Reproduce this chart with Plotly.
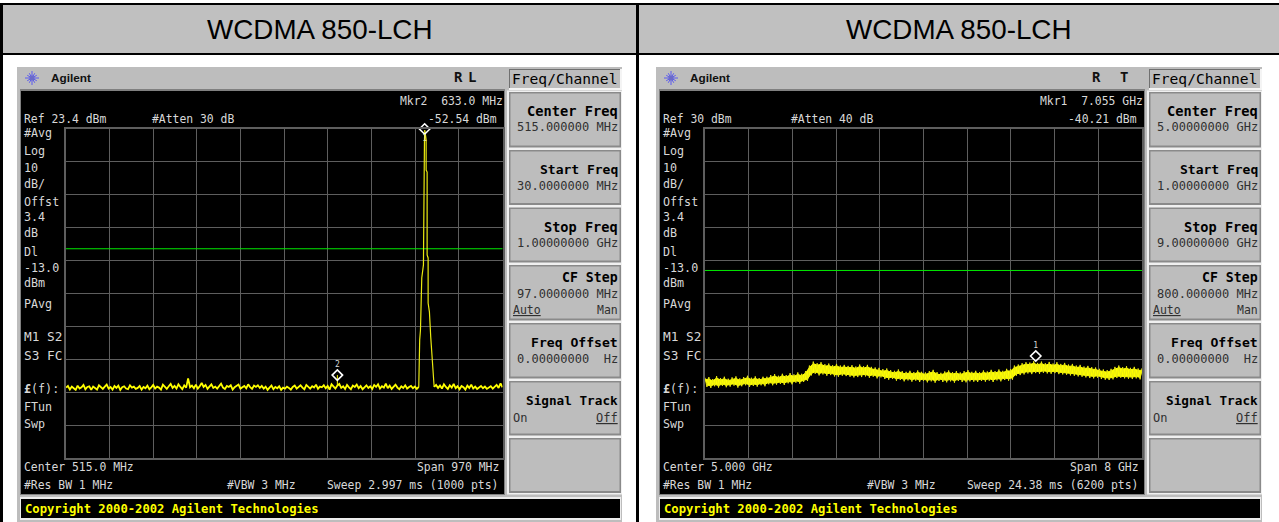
import math
import numpy as np
import plotly.graph_objects as go

W, H = 1279, 522
TITLE = "WCDMA 850-LCH"

# ---------- panel 1 data (MHz, dBm) ----------
P1_START, P1_STOP = 30.0, 1000.0
P1_REF = 23.4
P1_LIMIT = -13.0
p1_noise_left = [
-55.2,-54.7,-55.8,-54.9,-55.4,-55.9,-54.6,-55.5,-55.1,-54.4,-55.7,-55.0,-54.8,-55.9,-54.9,-55.3,-55.8,-54.5,-55.2,-55.6,
-54.9,-54.3,-55.5,-55.0,-55.8,-54.7,-55.3,-54.6,-55.9,-55.1,-54.8,-55.5,-55.7,-54.5,-55.2,-54.9,-55.6,-55.3,-54.7,-55.8,
-55.0,-55.4,-54.6,-55.7,-55.1,-54.4,-55.5,-54.9,-55.2,-55.8,-54.3,-55.0,-55.6,-54.8,-54.1,-55.3,-54.7,-55.5,-54.2,-55.0,
-55.7,-54.5,-55.2,-52.4,-55.1,-54.6,-55.4,-54.3,-55.5,-54.8,-53.8,-55.0,-54.4,-55.6,-54.7,-54.2,-55.3,-54.9,-55.5,-54.6,
-54.0,-55.2,-55.6,-54.7,-55.0,-54.5,-55.8,-55.1,-54.8,-54.3,-55.5,-55.0,-54.7,-55.4,-54.2,-55.1,-55.6,-54.6,-55.0,-54.5,
-55.3,-54.7,-55.5,-54.9,-55.9,-55.2,-54.6,-55.7,-55.0,-55.4,-54.8,-55.9,-55.2,-55.5,-54.9,-55.3,-55.8,-55.0,-54.6,-55.5,
-55.1,-54.5,-55.2,-55.7,-54.4,-55.0,-55.5,-54.8,-55.2,-54.3,-55.6,-54.9,-55.1,-54.5,-55.4,-54.7,-55.8,-54.2,-55.0,-55.5,
-54.6,-54.1,-55.3,-54.8,-55.6,-54.4,-55.1,-55.7,-54.6,-55.0,-54.3,-55.4,-54.7,-55.7,-55.1,-54.5,-55.3,-54.8,-55.6,-54.4,
-55.0,-54.2,-55.5,-54.8,-55.2,-54.0,-55.4,-54.6,-55.6,-54.9,-54.3,-55.2,-55.7,-54.8,-55.3,-54.5,-55.5,-55.0,-54.7,-55.4,
-54.9,-55.6
]
p1_peak_x = [813.9,814.7,816.0,817.7,818.3,820.6,824.3,824.7,826.6,827.3,830.3,830.3,832.5,832.5,834.7,834.7,837.6,840.5,843.7,845.9,848.1]
p1_peak_y = [-55.0,-46.8,-40.7,-37.7,-31.6,-21.9,-17.9,-2.7,20.1,23.1,20.1,10.9,10.3,-14.9,-15.8,-29.5,-32.2,-39.8,-47.7,-52.0,-55.0]
p1_noise_right = [
-54.4,-55.3,-54.6,-55.5,-54.2,-55.0,-55.6,-54.5,-55.2,-54.1,-55.4,-54.8,-55.7,-54.7,-55.1,-55.8,-54.6,-55.3,-54.3,-55.5,
-54.9,-55.6,-55.0,-54.7,-55.4,-54.9,-55.6,-55.1,-54.8,-55.5,-55.0,-54.4,-55.3,-53.9,-55.1
]
p1_marker_x = [633.0]
p1_marker_y = [-51.4]
p1_peak_marker_x = [827.0]
p1_peak_marker_y = [23.4]

# ---------- panel 2 data (GHz, dBm): alternating upper / lower edge of the trace ----------
P2_START, P2_STOP = 1.0, 9.0
P2_REF = 30.0
P2_LIMIT = -13.0
p2_trace = [
-45.6,-48.4,-45.4,-48.7,-46.0,-48.2,-45.1,-48.6,-45.7,-48.1,-45.3,-48.5,-45.9,-48.3,-45.5,-48.0,-45.2,-48.6,-45.8,-48.2,
-45.4,-47.9,-45.0,-48.4,-45.6,-48.1,-45.2,-48.3,-45.7,-47.9,-45.3,-48.2,
-45.3,-47.6,-44.8,-47.9,-44.5,-47.7,-45.0,-47.5,-44.4,-47.8,-44.8,-47.3,-44.2,-47.6,-44.6,-47.1,-44.0,-47.4,-44.4,-46.9,
-43.6,-46.6,-41.9,-44.9,-40.7,-44.4,-41.2,-44.9,-40.9,-44.6,-41.5,-45.0,-41.3,-44.8,-41.8,-45.2,-41.4,-45.3,-41.9,-45.0,
-41.7,-45.1,-42.0,-45.3,-41.8,-45.5,-42.2,-45.4,
-41.6,-45.4,-42.1,-45.2,-41.7,-45.6,-42.3,-45.3,-42.5,-45.8,-42.6,-45.5,-43.0,-46.0,-42.8,-46.2,-43.3,-46.0,-43.5,-46.5,
-43.1,-46.3,-43.6,-46.7,-43.8,-46.4,-43.5,-46.8,-43.9,-46.5,-43.4,-46.9,-43.8,-46.6,-44.0,-47.0,-43.6,-46.7,-43.2,-47.1,
-43.9,-46.6,-44.1,-46.9,-43.7,-47.0,-43.4,-46.7,-43.9,-47.1,-43.6,-46.6,-44.0,-46.9,-43.6,-47.0,-43.3,-46.7,-43.8,-46.8,
-43.5,-46.9,-43.9,-46.6,-43.4,-46.8,-43.7,-46.5,-43.2,-46.9,-43.6,-46.4,-43.1,-46.7,-43.5,-46.3,-42.9,-46.5,-43.0,-46.2,
-41.9,-45.0,-41.6,-44.8,-41.2,-44.6,-40.9,-44.3,-41.0,-44.5,-40.6,-44.2,-41.1,-44.4,-40.7,-44.1,-41.2,-44.3,-40.8,-44.4,
-41.3,-44.2,-40.9,-44.5,-41.4,-44.6,-41.1,-44.7,-41.6,-44.9,-41.4,-45.0,-41.9,-45.2,-41.7,-45.3,-42.2,-45.5,-42.0,-45.7,
-42.4,-45.8,-42.5,-45.6,-42.9,-46.0,-43.1,-46.2,-43.3,-46.3,-42.9,-46.1,-42.3,-45.7,-41.9,-45.6,-42.4,-45.8,-42.1,-45.9,
-42.6,-46.0,-42.3,-45.8,-42.8,-46.1,-42.7
]
p2_marker_x = [7.055]
p2_marker_y = [-39.0]

# ---------- texts ----------
left_labels = [("#Avg",133),("Log",151),("10",168),("dB/",184),("Offst",202),("3.4",217),("dB",233),
               ("Dl",252),("-13.0",268),("dBm",283),("PAvg",304),
               ("<b>£</b>(f):",389),("FTun",407),("Swp",424)]
key_tops = [92,150,207.5,265,323,381,438]
p1_keys = [("Center Freq","515.000000 MHz"),("Start Freq","30.0000000 MHz"),("Stop Freq","1.00000000 GHz"),
           ("CF Step","97.0000000 MHz"),("Freq Offset","0.00000000  Hz")]
p2_keys = [("Center Freq","5.00000000 GHz"),("Start Freq","1.00000000 GHz"),("Stop Freq","9.00000000 GHz"),
           ("CF Step","800.000000 MHz"),("Freq Offset","0.00000000  Hz")]
key_font_size = {"Center Freq":13.7,"Start Freq":13.0,"Stop Freq":13.6,"CF Step":13.2,"Freq Offset":13.1}

MONO = "DejaVu Sans Mono"
SANS = "Liberation Sans"
FACE = "#bdbdbd"
SCR = "#d8d8d8"
HEAD = 11.4

fx = lambda px: px / W
fy = lambda py: 1 - py / H
shapes, annos = [], []

def rect(x0, y0, x1, y1, fill):
    shapes.append(dict(type="rect", xref="paper", yref="paper", x0=fx(x0), x1=fx(x1), y0=fy(y1), y1=fy(y0),
                       fillcolor=fill, line=dict(width=0), layer="below"))

def text(s, x, y, size=11.7, color=SCR, anchor="left", font=MONO):
    annos.append(dict(text=s, x=fx(x), y=fy(y), xref="paper", yref="paper", xanchor=anchor, yanchor="middle",
                      showarrow=False, borderpad=0, font=dict(family=font, size=size, color=color)))

def logo(cx, cy):
    for k in range(12):
        a = k * math.pi / 6
        r0, r1 = (2, 7) if k % 3 == 0 else (2, 5.5)
        shapes.append(dict(type="line", xref="paper", yref="paper",
                           x0=fx(cx+r0*math.cos(a)), x1=fx(cx+r1*math.cos(a)),
                           y0=fy(cy+r0*math.sin(a)), y1=fy(cy+r1*math.sin(a)),
                           line=dict(color="#5a5af0", width=1), layer="below"))
    shapes.append(dict(type="circle", xref="paper", yref="paper", x0=fx(cx-2.5), x1=fx(cx+2.5), y0=fy(cy+2.5), y1=fy(cy-2.5),
                       fillcolor="#6a6ac8", line=dict(width=0), layer="below"))

# table skeleton
rect(0, 0, W, H, "#ffffff")
rect(2, 5, W, 53, "#c0c0c0")
rect(0, 3, W, 5, "#000000")
rect(0, 53, W, 55, "#000000")
rect(0, 3, 3, H, "#000000")
rect(636, 3, 639, H, "#000000")
text(TITLE, 320, 29.5, 27.8, "#000000", "center", SANS)
text(TITLE, 959, 29.5, 27.8, "#000000", "center", SANS)

def instrument(o, o2, flag1, flag2, keys, lines):
    rect(17+o, 67, 622+o2, H, FACE)
    rect(20+o, 89, 505+o2, 495, "#808080")
    rect(21+o, 91, 504+o2, 494, "#000000")
    rect(20+o, 497, 621+o2, 520, "#ececec")
    rect(21+o, 499, 620+o2, 518, "#000000")
    logo(32+o, 78)
    text("<b>Agilent</b>", 50+o, 78, 11.8, "#101010", "left", SANS)
    text("<b>R</b>", flag1+o2, 77, 14, "#111111", "center", MONO)
    text("<b>"+flag2[0]+"</b>", flag2[1]+o2, 77, 14, "#111111", "center", MONO)
    rect(509+o2, 69, 622+o2, 90, "#f4f4f4")
    rect(509+o2, 69, 620+o2, 88, "#707070")
    rect(510+o2, 70, 620+o2, 88, FACE)
    text("Freq/Channel", 618+o2, 78.5, 14.6, "#000000", "right")
    for i, top in enumerate(key_tops[:-1]):
        bot = key_tops[i+1] - 2.5
        rect(507+o2, top-1.5, 622+o2, bot+1.5, "#f0f0f0")
        rect(509+o2, top, 621+o2, bot, "#8a8a8a")
        rect(510.5+o2, top+1.5, 619.5+o2, bot-2, FACE)
    rect(507+o2, 436.5, 622+o2, 494.5, "#f0f0f0")
    rect(509+o2, 438, 621+o2, 493, "#8a8a8a")
    rect(510.5+o2, 439.5, 619.5+o2, 491, FACE)
    for i, (a, b) in enumerate(keys):
        t = key_tops[i]
        size = key_font_size[a]
        if a == "CF Step":
            text("<b>"+a+"</b>", 618.5+o2, t+12, size, "#000000", "right")
            text(b, 618.5+o2, t+29, 12, "#303030", "right")
            text("<u>Auto</u>", 511.5+o2, t+45, 11.5, "#303030", "left")
            text("Man", 618.5+o2, t+45, 11.5, "#303030", "right")
        else:
            text("<b>"+a+"</b>", 618.5+o2, t+19, size, "#000000", "right")
            text(b, 618.5+o2, t+35.5, 12, "#303030", "right")
    t = key_tops[5]
    text("<b>Signal Track</b>", 618.5+o2, t+19.5, 12.7, "#000000", "right")
    text("On", 511.5+o2, t+36.5, 12, "#303030", "left")
    text("<u>Off</u>", 618.5+o2, t+36.5, 12, "#303030", "right")
    text("<b>Copyright 2000-2002 Agilent Technologies</b>", 23.5+o, 508.5, 12.2, "#ffff00", "left")
    for s, y in left_labels:
        text(s, 23+o, y)
    text("M1 S2", 23+o, 336, 12.8)
    text("S3 FC", 23+o, 355, 12.8)
    for s, x, y, a in lines:
        text(s, x, y, HEAD, SCR, a)

instrument(0, 0, 458, ("L", 472), p1_keys, [
    ("Ref 23.4 dBm", 23, 119, "left"), ("#Atten 30 dB", 151, 119, "left"),
    ("Mkr2  633.0 MHz", 504, 101, "right"), ("-52.54 dBm", 498, 119, "right"),
    ("Center 515.0 MHz", 23, 467, "left"), ("Span 970 MHz", 499.5, 467, "right"),
    ("#Res BW 1 MHz", 23, 485, "left"), ("#VBW 3 MHz", 226, 485, "left"),
    ("Sweep 2.997 ms (1000 pts)", 499, 485, "right")])
instrument(639, 640, 456, ("T", 484), p2_keys, [
    ("Ref 30 dBm", 662, 119, "left"), ("#Atten 40 dB", 790, 119, "left"),
    ("Mkr1  7.055 GHz", 1144, 101, "right"), ("-40.21 dBm", 1138, 119, "right"),
    ("Center 5.000 GHz", 662, 467, "left"), ("Span 8 GHz", 1139.5, 467, "right"),
    ("#Res BW 1 MHz", 662, 485, "left"), ("#VBW 3 MHz", 866, 485, "left"),
    ("Sweep 24.38 ms (6200 pts)", 1139, 485, "right")])

fig = go.Figure()

# panel 1 traces
left_x = np.linspace(P1_START, p1_peak_x[0], len(p1_noise_left), endpoint=False)
right_x = np.linspace(p1_peak_x[-1], P1_STOP, len(p1_noise_right) + 1)[1:]
GREEN = "#00e800"; YEL = "#ffff00"; PEAK = "#eaea10"
fig.add_trace(go.Scatter(x=[P1_START, P1_STOP+4], y=[P1_LIMIT]*2, mode="lines", line=dict(color=GREEN, width=1), xaxis="x", yaxis="y", cliponaxis=False))
fig.add_trace(go.Scatter(x=list(left_x)+p1_peak_x[:1], y=p1_noise_left+p1_peak_y[:1], mode="lines", line=dict(color=YEL, width=1.8), xaxis="x", yaxis="y"))
fig.add_trace(go.Scatter(x=p1_peak_x, y=p1_peak_y, mode="lines", line=dict(color=PEAK, width=1.2), xaxis="x", yaxis="y"))
fig.add_trace(go.Scatter(x=p1_peak_x[-1:]+list(right_x), y=p1_peak_y[-1:]+p1_noise_right, mode="lines", line=dict(color=YEL, width=1.8), xaxis="x", yaxis="y"))
fig.add_trace(go.Scatter(x=p1_marker_x*2, y=[p1_marker_y[0], -54.6], mode="lines", line=dict(color=YEL, width=1), xaxis="x", yaxis="y"))
fig.add_trace(go.Scatter(x=p1_marker_x, y=p1_marker_y, mode="markers+text", text=["2"], textposition="top center",
                         textfont=dict(family=MONO, size=8, color=SCR),
                         marker=dict(symbol="diamond-open", size=8, color="#ffffff", line=dict(width=1.6, color="#ffffff")),
                         xaxis="x", yaxis="y", cliponaxis=False))
fig.add_trace(go.Scatter(x=p1_peak_marker_x, y=p1_peak_marker_y, mode="markers+text", text=["1"], textposition="bottom center",
                         textfont=dict(family=MONO, size=8, color="#e8e8a0"),
                         marker=dict(symbol="diamond-open", size=8, color="#ffffff", line=dict(width=1.6, color="#ffffff")),
                         xaxis="x", yaxis="y", cliponaxis=False))

# panel 2 traces: solid body between the edges, with the jagged sweep on top
p2_x = np.linspace(P2_START, P2_STOP, len(p2_trace))
upper = np.array(p2_trace[::2]) - 0.6
lower = np.array(p2_trace[1::2]) + 0.6
fig.add_trace(go.Scatter(x=[P2_START, P2_STOP], y=[P2_LIMIT]*2, mode="lines", line=dict(color=GREEN, width=1), xaxis="x2", yaxis="y2"))
fig.add_trace(go.Scatter(x=list(p2_x[::2])+list(p2_x[1::2][::-1]), y=list(upper)+list(lower[::-1]),
                         mode="lines", fill="toself", fillcolor=YEL, line=dict(color=YEL, width=1), xaxis="x2", yaxis="y2"))
fig.add_trace(go.Scatter(x=p2_x, y=p2_trace, mode="lines", line=dict(color=PEAK, width=1), xaxis="x2", yaxis="y2"))
fig.add_trace(go.Scatter(x=p2_marker_x, y=p2_marker_y, mode="markers+text", text=["1"], textposition="top center",
                         textfont=dict(family=MONO, size=8, color=SCR),
                         marker=dict(symbol="diamond-open", size=8, color="#ffffff", line=dict(width=1.6, color="#ffffff")),
                         xaxis="x2", yaxis="y2", cliponaxis=False))

GRID = "#5e5e5e"
def xaxis(p0, p1, a, b, dom_anchor):
    return dict(domain=[fx(p0), fx(p1)], range=[a, b], tick0=a, dtick=(b-a)/10, showticklabels=False, ticks="",
                showgrid=True, gridcolor=GRID, gridwidth=1.2, zeroline=False, showline=True, linecolor=GRID,
                linewidth=1.5, mirror=True, anchor=dom_anchor)
def yaxis(ref, dom_anchor):
    return dict(domain=[fy(458), fy(129)], range=[ref-100, ref], tick0=ref, dtick=10, showticklabels=False, ticks="",
                showgrid=True, gridcolor=GRID, gridwidth=1.2, zeroline=False, showline=True, linecolor=GRID,
                linewidth=1.5, mirror=True, anchor=dom_anchor)

fig.update_layout(
    width=W, height=H, margin=dict(l=0, r=0, t=0, b=0), autosize=False,
    showlegend=False, paper_bgcolor="#ffffff", plot_bgcolor="#000000",
    xaxis=xaxis(66, 502.5, P1_START, P1_STOP, "y"),
    yaxis=yaxis(P1_REF, "x"),
    xaxis2=xaxis(705, 1142, P2_START, P2_STOP, "y2"),
    yaxis2=yaxis(P2_REF, "x2"),
    shapes=shapes, annotations=annos, hovermode=False,
)
fig.write_html("out.html", config={"displayModeBar": False},
               post_script="document.body.style.margin='0';document.body.style.overflow='hidden';")
